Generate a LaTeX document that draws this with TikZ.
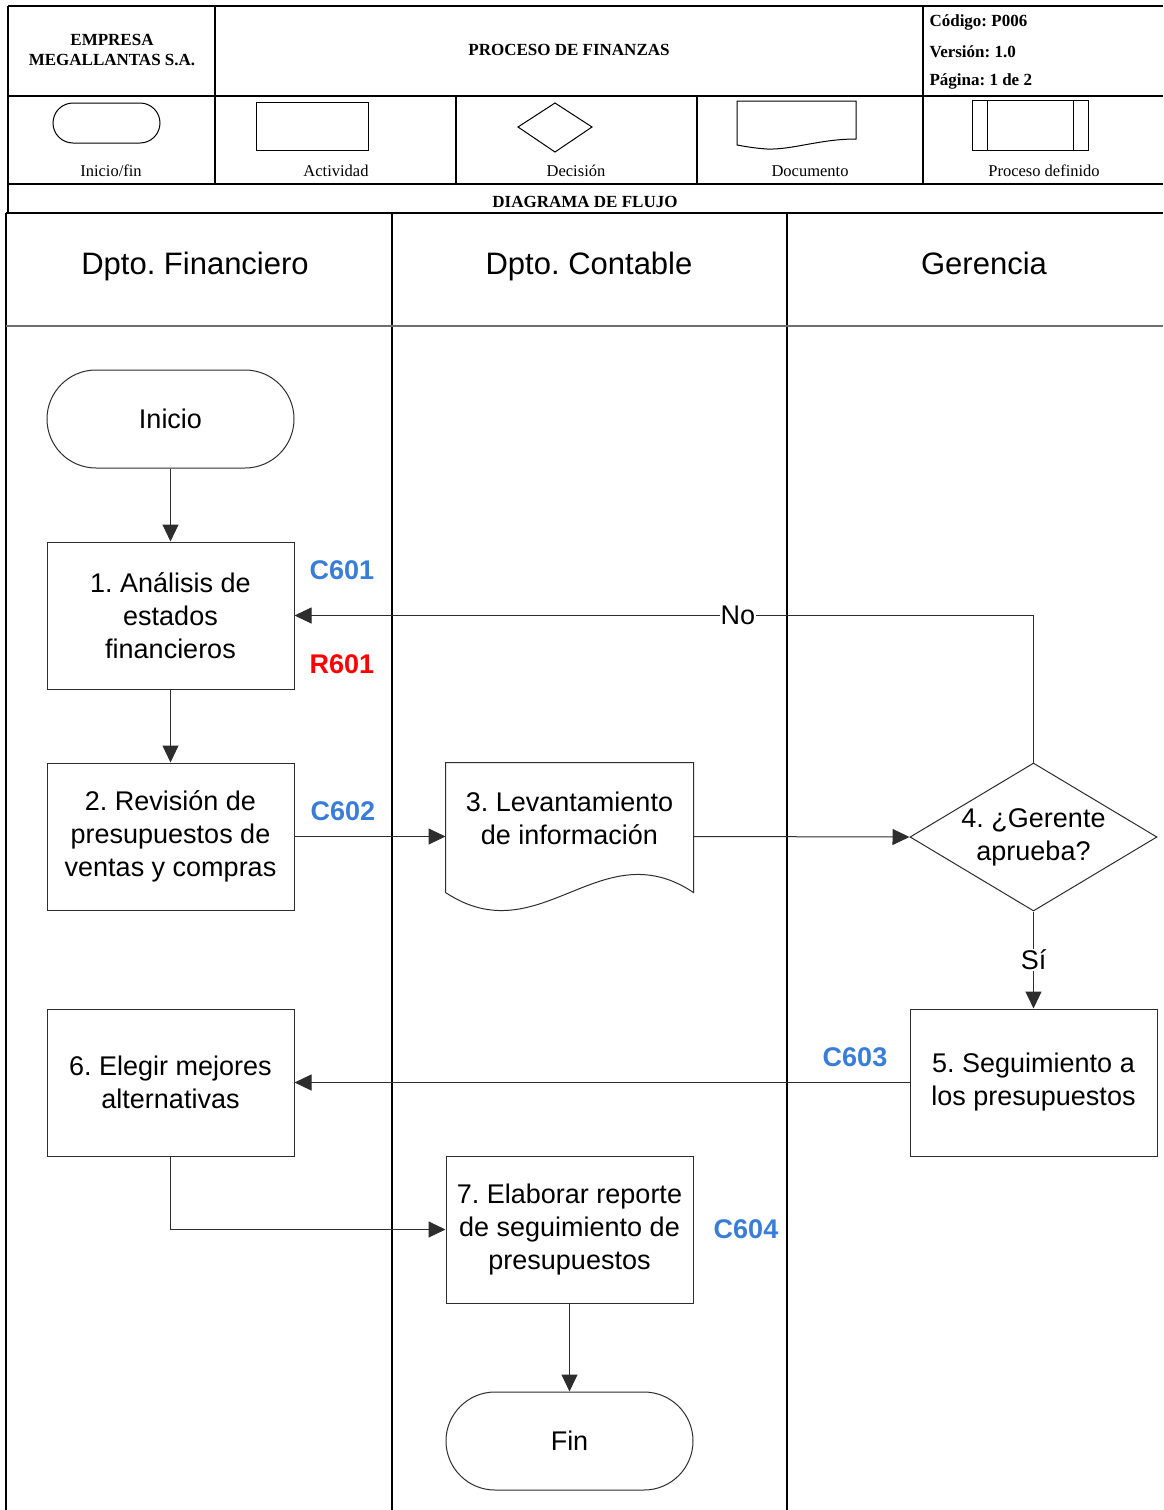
\documentclass[tikz,border=0pt]{standalone}
\usepackage{fontspec}
\setmainfont{Liberation Serif}
\newfontfamily\arialfont{Liberation Sans}
\usetikzlibrary{arrows.meta,shapes.geometric}
\definecolor{ctrlblue}{RGB}{58,125,216}
\definecolor{shapeline}{RGB}{45,45,45}
\definecolor{laneline}{RGB}{110,110,110}
\frenchspacing

\begin{document}
\begin{tikzpicture}[x=1pt,y=-1pt,
  hdr/.style={font=\fontsize{17}{20}\selectfont\bfseries},
  legtxt/.style={font=\fontsize{16.5}{20}\selectfont},
  frame/.style={line width=2pt, black},
  lanetitle/.style={font=\arialfont\fontsize{31}{37}\selectfont, text depth=0pt},
  legshape/.style={draw=black, line width=1pt},
  stepbox/.style={draw=shapeline, line width=1pt, minimum width=247pt, minimum height=147pt,
    inner sep=0pt, align=center, font=\arialfont\fontsize{27}{33}\selectfont},
  terminal/.style={stepbox, minimum height=98pt, rounded corners=49pt},
  decision/.style={diamond, draw=shapeline, line width=1pt, minimum width=247pt,
    minimum height=148pt, inner sep=0pt},
  flow/.style={draw=shapeline, line width=1pt, -{Triangle[length=17pt,width=16pt]}},
  flowlabel/.style={fill=white, inner sep=1pt, font=\arialfont\fontsize{27}{33}\selectfont},
  ctrl/.style={font=\arialfont\bfseries\fontsize{27}{32}\selectfont, text=ctrlblue},
  risk/.style={font=\arialfont\bfseries\fontsize{27}{32}\selectfont, text=red}
]
\useasboundingbox (0,0) rectangle (1163,1510);
\fill[white] (0,0) rectangle (1163,1510);

% ---------- document header ----------
\draw[frame] (8,6) -- (1163,6);
\draw[frame] (8,96) -- (1163,96);
\draw[frame] (8,184) -- (1163,184);
\draw[frame] (6,213) -- (1163,213);
\draw[frame] (8,6) -- (8,213);
\draw[frame] (215,6) -- (215,184);
\draw[frame] (923,6) -- (923,184);
\draw[frame] (456,96) -- (456,184);
\draw[frame] (697,96) -- (697,184);

\node[hdr, align=center] (company) at (112,50) {EMPRESA\\MEGALLANTAS S.A.};
\node[hdr] (process) at (569,50) {PROCESO DE FINANZAS};
\node[hdr, anchor=west] (code) at (926,22) {Código: P006};
\node[hdr, anchor=west] (version) at (926,52) {Versión: 1.0};
\node[hdr, anchor=west] (page) at (926,81) {Página: 1 de 2};
\node[hdr] (dtitle) at (585,202) {DIAGRAMA DE FLUJO};

% ---------- legend ----------
\draw[legshape, rounded corners=20pt] (53,103) rectangle (160,143);
\node[legtxt] (lg1) at (111,171) {Inicio/fin};
\draw[legshape] (256,102) rectangle (368,150);
\node[legtxt] (lg2) at (336,171) {Actividad};
\draw[legshape] (518,127) -- (555,103) -- (592,127) -- (555,152) -- cycle;
\node[legtxt] (lg3) at (576,171) {Decisión};
\draw[legshape] (737,101) -- (856,101) -- (856,139)
  .. controls (820,139) and (792,150) .. (767,149)
  .. controls (752,148) and (743,146) .. (737,145) -- cycle;
\node[legtxt] (lg4) at (810,171) {Documento};
\draw[legshape] (972,100) rectangle (1088,150);
\draw[legshape] (987,100) -- (987,150);
\draw[legshape] (1073,100) -- (1073,150);
\node[legtxt] (lg5) at (1044,171) {Proceso definido};

% ---------- swimlanes ----------
\draw[frame] (6,213) -- (6,1510);
\draw[line width=1.3pt] (392,213) -- (392,1510);
\draw[line width=1.3pt] (787,213) -- (787,1510);
\draw[line width=1.3pt, laneline] (6,326) -- (1163,326);
\node[lanetitle] (lane1) at (195,263) {Dpto. Financiero};
\node[lanetitle] (lane2) at (589,263) {Dpto. Contable};
\node[lanetitle] (lane3) at (984,263) {Gerencia};

% ---------- process steps ----------
\node[terminal] (start) at (170.5,419) {Inicio};
\node[stepbox] (n1) at (170.5,615.5) {1. Análisis de\\estados\\financieros};
\node[stepbox] (n2) at (170.5,836.5) {2. Revisión de\\presupuestos de\\ventas y compras};
\node[stepbox, draw=none, minimum height=129pt] (n3) at (569.5,827.5) {};
\draw[draw=shapeline, line width=1pt] (n3.south west) -- (n3.north west) -- (n3.north east) -- (n3.south east)
  .. controls (600,830) and (540,955) .. (n3.south west);
\node[stepbox, draw=none, minimum height=0pt] (n3txt) at (569.5,818.5) {3. Levantamiento\\de información};
\node[decision, label={[align=center, font=\arialfont\fontsize{27}{33}\selectfont]center:4. ¿Gerente\\aprueba?}] (n4) at (1033.5,837) {};
\node[stepbox] (n5) at (1033.5,1082.5) {5. Seguimiento a\\los presupuestos};
\node[stepbox] (n6) at (170.5,1082.5) {6. Elegir mejores\\alternativas};
\node[stepbox] (n7) at (569.5,1229.5) {7. Elaborar reporte\\de seguimiento de\\presupuestos};
\node[terminal] (finish) at (569.5,1441) {Fin};

% ---------- control / risk codes ----------
\node[ctrl] (c601) at (342,570) {C601};
\node[risk] (r601) at (342,664) {R601};
\node[ctrl] (c602) at (343,811) {C602};
\node[ctrl] (c603) at (855,1057) {C603};
\node[ctrl] (c604) at (746,1229) {C604};

% ---------- flow ----------
\draw[flow] (start) -- (n1);
\draw[flow] (n1) -- (n2);
\draw[flow] (n2.east) -- (n2.east -| n3.west);
\draw[flow] (n2.east -| n3.east) -- (n4.west);
\draw[flow] (n4.north) |- node[flowlabel, pos=0.7] {No} (n1.east);
\draw[flow] (n4.south) -- node[flowlabel] {Sí} (n5.north);
\draw[flow] (n5.west) -- (n6.east);
\draw[flow] (n6.south) |- (n7.west);
\draw[flow] (n7) -- (finish);
\end{tikzpicture}
\end{document}
